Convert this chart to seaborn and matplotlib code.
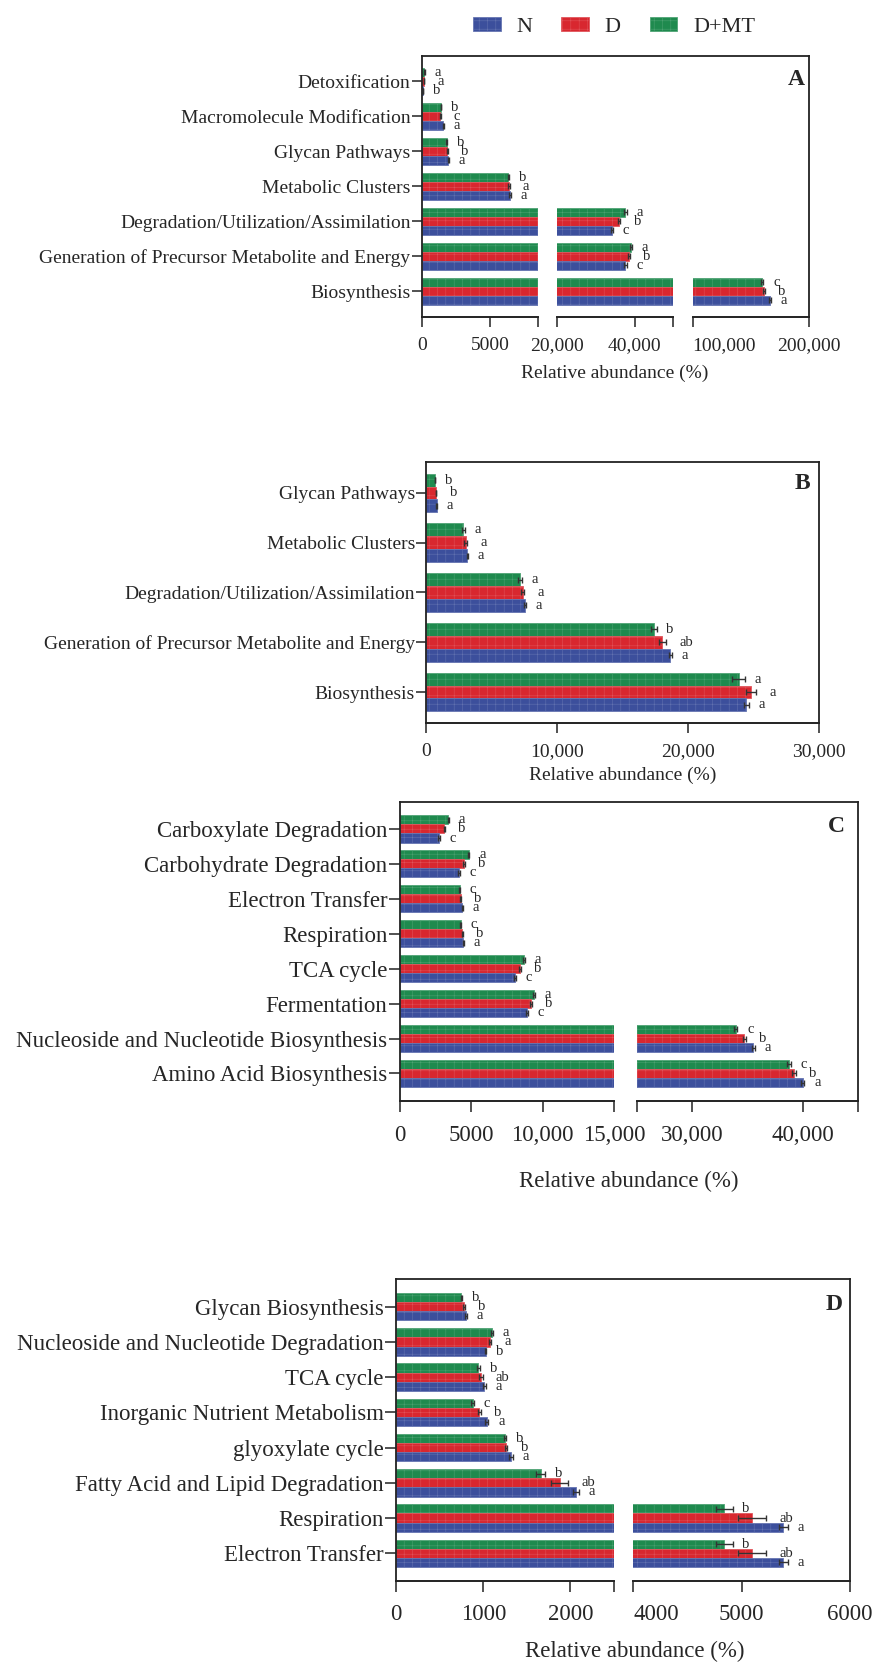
import matplotlib
matplotlib.use("Agg")
import matplotlib.pyplot as plt
from matplotlib.patches import Patch
import matplotlib.colors as mcolors
import numpy as np
import pandas as pd
import seaborn as sns

# ---------------- data ----------------
groups = ["N", "D", "D+MT"]
hue_order = ["D+MT", "D", "N"]
palette = {"N": "#3c4f9c", "D": "#d8272f", "D+MT": "#1f8a4e"}

# Panel A
A_cats = ["Detoxification", "Macromolecule Modification", "Glycan Pathways",
          "Metabolic Clusters", "Degradation/Utilization/Assimilation",
          "Generation of Precursor Metabolite and Energy", "Biosynthesis"]
A_N = [100, 1580, 1950, 6470, 34100, 37600, 166500]
A_D = [180, 1360, 1880, 6390, 36000, 38500, 161300]
A_DMT = [200, 1410, 1850, 6340, 37600, 39000, 159900]
A_N_err = [20, 40, 40, 50, 300, 300, 900]
A_D_err = [20, 30, 40, 50, 300, 300, 900]
A_DMT_err = [20, 30, 40, 50, 300, 300, 900]
A_N_sig = ["b", "a", "a", "a", "c", "c", "a"]
A_D_sig = ["a", "c", "b", "a", "b", "b", "b"]
A_DMT_sig = ["a", "b", "b", "b", "a", "a", "c"]

# Panel B
B_cats = ["Glycan Pathways", "Metabolic Clusters", "Degradation/Utilization/Assimilation",
          "Generation of Precursor Metabolite and Energy", "Biosynthesis"]
B_N = [810, 3160, 7550, 18650, 24460]
B_D = [770, 3030, 7380, 18050, 24800]
B_DMT = [690, 2860, 7170, 17410, 23860]
B_N_err = [30, 60, 60, 100, 200]
B_D_err = [30, 100, 120, 300, 400]
B_DMT_err = [30, 80, 150, 200, 500]
B_N_sig = ["a", "a", "a", "a", "a"]
B_D_sig = ["b", "a", "a", "ab", "a"]
B_DMT_sig = ["b", "a", "a", "b", "a"]

# Panel C
C_cats = ["Carboxylate Degradation", "Carbohydrate Degradation", "Electron Transfer",
          "Respiration", "TCA cycle", "Fermentation",
          "Nucleoside and Nucleotide Biosynthesis", "Amino Acid Biosynthesis"]
C_N = [2750, 4140, 4370, 4450, 8040, 8890, 35540, 40000]
C_D = [3130, 4490, 4250, 4370, 8390, 9200, 34720, 39220]
C_DMT = [3400, 4830, 4180, 4250, 8700, 9400, 33940, 38760]
C_N_err = [40, 40, 40, 40, 60, 60, 150, 150]
C_D_err = [40, 40, 40, 40, 60, 60, 150, 150]
C_DMT_err = [40, 40, 40, 40, 60, 60, 150, 150]
C_N_sig = ["c", "c", "a", "a", "c", "c", "a", "a"]
C_D_sig = ["b", "b", "b", "b", "b", "b", "b", "b"]
C_DMT_sig = ["a", "a", "c", "c", "a", "a", "c", "c"]

# Panel D
D_cats = ["Glycan Biosynthesis", "Nucleoside and Nucleotide Degradation", "TCA cycle",
          "Inorganic Nutrient Metabolism", "glyoxylate cycle",
          "Fatty Acid and Lipid Degradation", "Respiration", "Electron Transfer"]
D_N = [800, 1026, 1013, 1039, 1316, 2065, 5383, 5383]
D_D = [774, 1077, 974, 955, 1262, 1877, 5096, 5096]
D_DMT = [748, 1103, 942, 877, 1250, 1658, 4840, 4840]
D_N_err = [10, 10, 15, 20, 20, 30, 42, 42]
D_D_err = [10, 15, 20, 20, 15, 100, 130, 130]
D_DMT_err = [10, 10, 20, 15, 10, 55, 77, 77]
D_N_sig = ["a", "b", "a", "a", "a", "a", "a", "a"]
D_D_sig = ["b", "a", "ab", "b", "b", "ab", "ab", "ab"]
D_DMT_sig = ["b", "a", "b", "c", "b", "b", "b", "b"]

# ---------------- style ----------------
sns.set_theme(style="ticks")
plt.rcParams["font.family"] = ["Liberation Serif", "DejaVu Serif"]
plt.rcParams["hatch.linewidth"] = 0.35

W, H = 872, 1662
fig = plt.figure(figsize=(W / 100, H / 100), dpi=100)


def lighten(c, amt):
    r, g, b = mcolors.to_rgb(c)
    return (r + (1 - r) * amt, g + (1 - g) * amt, b + (1 - b) * amt)


def draw_panel(cats, vals, errs, sigs, segs, seg_px, ticks, ticklabels, top, bottom,
               fs_y, fs_x, fs_sig, tick_len, xpad, letter, letter_xy, xlabel_xy,
               left_aligned=()):
    rows = []
    for g in groups:
        for c, v in zip(cats, vals[g]):
            rows.append({"category": c, "value": v, "group": g})
    df = pd.DataFrame(rows)

    axes = []
    for i, ((lo, hi), (x0, x1)) in enumerate(zip(segs, seg_px)):
        ax = fig.add_axes([x0 / W, 1 - bottom / H, (x1 - x0) / W, (bottom - top) / H])
        sns.barplot(data=df, y="category", x="value", hue="group", order=cats,
                    hue_order=hue_order, palette=palette, orient="h", width=0.78,
                    errorbar=None, saturation=1, legend=False, ax=ax)
        ax.set_xlim(lo, hi)
        ax.set_facecolor("none")
        for cont, g in zip(ax.containers, hue_order):
            for bar in cont:
                bar.set_hatch("++")
                bar.set_edgecolor(lighten(palette[g], 0.22))
                bar.set_linewidth(0.6)
        ax.set_xlabel("")
        ax.set_ylabel("")
        ax.set_xticks(ticks[i])
        ax.set_xticklabels(ticklabels[i], fontsize=fs_x)
        for j in left_aligned:
            if j[0] == i:
                ax.get_xticklabels()[j[1]].set_ha("left")
        ax.tick_params(axis="x", length=tick_len, width=1.1, pad=xpad, color="#222222")
        for s in ["top", "right"]:
            ax.spines[s].set_visible(False)
        ax.spines["bottom"].set_linewidth(1.4)
        ax.spines["bottom"].set_color("#222222")
        if i == 0:
            ax.spines["left"].set_linewidth(1.3)
            ax.spines["left"].set_color("#222222")
            ax.tick_params(axis="y", length=tick_len, width=1.1, pad=1, labelsize=fs_y,
                           color="#222222")
        else:
            ax.spines["left"].set_visible(False)
            ax.tick_params(axis="y", left=False, labelleft=False)
        axes.append(ax)

    # error bars and significance letters on the segment holding each value
    for k, g in enumerate(hue_order):
        for ci, c in enumerate(cats):
            v = vals[g][ci]
            e = errs[g][ci]
            si = max(i for i, (lo, hi) in enumerate(segs) if v >= lo or i == 0)
            ax = axes[si]
            bar = ax.containers[k][ci]
            yc = bar.get_y() + bar.get_height() / 2
            ax.errorbar(v, yc, xerr=e, fmt="none", ecolor="#333333", elinewidth=1,
                        capsize=2.5, capthick=1, zorder=4, clip_on=False)
            dx = 7 + 2.5 * (k == 1)
            ax.annotate(sigs[g][ci], xy=(v + e, yc), xytext=(dx, 0),
                        textcoords="offset points", ha="left", va="center",
                        fontsize=fs_sig, annotation_clip=False)

    # outer frame: top and right edges across the whole panel
    x_left, x_right = seg_px[0][0], seg_px[-1][1]
    frame = fig.add_axes([x_left / W, 1 - bottom / H, (x_right - x_left) / W,
                          (bottom - top) / H])
    frame.set_xticks([])
    frame.set_yticks([])
    for s in ["left", "bottom"]:
        frame.spines[s].set_visible(False)
    for s in ["top", "right"]:
        frame.spines[s].set_linewidth(1.3)
        frame.spines[s].set_color("#222222")
    frame.patch.set_visible(False)

    fig.text(letter_xy[0] / W, 1 - letter_xy[1] / H, letter, fontsize=17,
             fontweight="bold", ha="center", va="center")
    fig.text(xlabel_xy[0] / W, 1 - xlabel_xy[1] / H, "Relative abundance (%)",
             fontsize=fs_x, ha="center", va="center")


draw_panel(A_cats,
           {"N": A_N, "D": A_D, "D+MT": A_DMT},
           {"N": A_N_err, "D": A_D_err, "D+MT": A_DMT_err},
           {"N": A_N_sig, "D": A_D_sig, "D+MT": A_DMT_sig},
           segs=[(0, 8500), (20000, 50000), (100000, 200000)],
           seg_px=[(421.7, 537.7), (557.3, 673.3), (692.7, 809)],
           ticks=[[0, 5000, 8500], [20000, 40000, 50000], [100000, 200000]],
           ticklabels=[["0", "5000", ""], ["20,000", "40,000", ""], ["100,000", "200,000"]],
           top=56, bottom=316.7, fs_y=14, fs_x=14, fs_sig=10.5, tick_len=7, xpad=7.5,
           letter="A", letter_xy=(796.5, 79.3), xlabel_xy=(615, 373),
           left_aligned=[(2, 0)])

draw_panel(B_cats,
           {"N": B_N, "D": B_D, "D+MT": B_DMT},
           {"N": B_N_err, "D": B_D_err, "D+MT": B_DMT_err},
           {"N": B_N_sig, "D": B_D_sig, "D+MT": B_DMT_sig},
           segs=[(0, 30000)],
           seg_px=[(426, 819)],
           ticks=[[0, 10000, 20000, 30000]],
           ticklabels=[["0", "10,000", "20,000", "30,000"]],
           top=461.7, bottom=723.3, fs_y=14, fs_x=14, fs_sig=10.5, tick_len=7, xpad=7.5,
           letter="B", letter_xy=(802, 483.3), xlabel_xy=(622.5, 775))

draw_panel(C_cats,
           {"N": C_N, "D": C_D, "D+MT": C_DMT},
           {"N": C_N_err, "D": C_D_err, "D+MT": C_DMT_err},
           {"N": C_N_sig, "D": C_D_sig, "D+MT": C_DMT_sig},
           segs=[(0, 15000), (25000, 45000)],
           seg_px=[(399.7, 614.3), (636.7, 858)],
           ticks=[[0, 5000, 10000, 15000], [25000, 30000, 40000, 45000]],
           ticklabels=[["0", "5000", "10,000", "15,000"], ["", "30,000", "40,000", ""]],
           top=801.7, bottom=1100.7, fs_y=16.5, fs_x=16.5, fs_sig=10.5, tick_len=8,
           xpad=9.5, letter="C", letter_xy=(836.8, 826.7), xlabel_xy=(629, 1181))

draw_panel(D_cats,
           {"N": D_N, "D": D_D, "D+MT": D_DMT},
           {"N": D_N_err, "D": D_D_err, "D+MT": D_DMT_err},
           {"N": D_N_sig, "D": D_D_sig, "D+MT": D_DMT_sig},
           segs=[(0, 2500), (4000, 6000)],
           seg_px=[(396.3, 613.8), (633.3, 850)],
           ticks=[[0, 1000, 2000, 2500], [4000, 5000, 6000]],
           ticklabels=[["0", "1000", "2000", ""], ["4000", "5000", "6000"]],
           top=1279.3, bottom=1580.7, fs_y=16.5, fs_x=16.5, fs_sig=10.5, tick_len=8,
           xpad=9, letter="D", letter_xy=(834.6, 1305), xlabel_xy=(635, 1651),
           left_aligned=[(1, 0)])

# legend
handles = [Patch(facecolor=palette[g], edgecolor=lighten(palette[g], 0.22),
                 hatch="++", linewidth=0.6, label=g) for g in groups]
fig.legend(handles=handles, loc="center", bbox_to_anchor=(614 / W, 1 - 26.7 / H),
           ncol=3, frameon=False, fontsize=16, handlelength=1.25, handleheight=0.6,
           handletextpad=0.7, columnspacing=1.3)

fig.savefig("out.png", dpi=100)
